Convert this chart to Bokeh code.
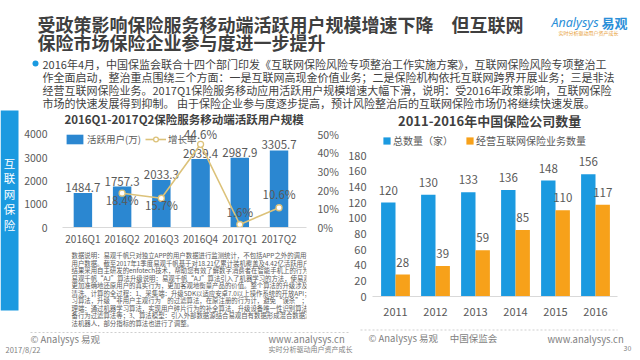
from bokeh.plotting import figure
from bokeh.models import (Range1d, LinearAxis, FixedTicker, PrintfTickFormatter,
                          Legend, LegendItem, ColumnDataSource)
from bokeh.layouts import column, row
from bokeh.transform import dodge
from bokeh.embed import file_html
from bokeh.resources import INLINE
from bokeh.core.properties import value

FONT = "Noto Sans CJK SC"
GRAY = "#595959"
DARK = "#3f3f3f"

# ---------------- data ----------------
title_lines = ["受政策影响保险服务移动端活跃用户规模增速下降　但互联网",
               "保险市场保险企业参与度进一步提升"]
bullet_lines = [
    "2016年4月，中国保监会联合十四个部门印发《互联网保险风险专项整治工作实施方案》，互联网保险风险专项整治工",
    "作全面启动，整治重点围绕三个方面：一是互联网高现金价值业务；二是保险机构依托互联网跨界开展业务；三是非法",
    "经营互联网保险业务。2017Q1保险服务移动应用活跃用户规模增速大幅下滑，说明：受2016年政策影响，互联网保险",
    "市场的快速发展得到抑制。 由于保险企业参与度逐步提高，预计风险整治后的互联网保险市场仍将继续快速发展。",
]
note_lines = [
    "数据说明：易观千帆只对独立APP的用户数据进行监测统计，不包括APP之外的调用等行为产生的",
    "用户数据。截至2017年1季度易观千帆基于对18.21亿累计装机覆盖及4.42亿活跃用户的行为监测",
    "结果采用自主研发的enfotech技术，帮助您有效了解数字消费者在智能手机上的行为轨迹。",
    "易观千帆“AJ”算法升级说明：易观千帆“AJ”算法引入了机器学习的方法，使易观千帆的数据",
    "更加准确地还原用户的真实行为，更加客观地衡量产品的价值。整个算法的升级涉及到数据采集、",
    "清洗、计算的全过程：1、采集端：升级SDK以适应安卓7.0以上操作系统的开放API；通过机器学",
    "习算法，升级“非用户主观行为”的过滤算法，在原注册的行为计，避免“误杀”；2、数据处",
    "理端：通过机器学习算法，实现用户碎片行为的补全算法，升级设备唯一性识别算法，增加异常设",
    "备行为过滤算法等；3、算法模型：引入外部数据源结合易观自有数据形成混合数据源，训练AI算",
    "法机器人，部分指标的算法也进行了调整。",
]
sidebar_text = "互联网保险"

left_title = "2016Q1-2017Q2保险服务移动端活跃用户规模"
quarters = ["2016Q1", "2016Q2", "2016Q3", "2016Q4", "2017Q1", "2017Q2"]
active_users = [1484.7, 1757.3, 2033.3, 2939.4, 2987.9, 3305.7]
growth_quarters = ["2016Q2", "2016Q3", "2016Q4", "2017Q1", "2017Q2"]
growth_rate = [18.4, 15.7, 44.6, 1.6, 10.6]
users_ticks = [0, 1000, 2000, 3000, 4000]
pct_ticks = [0, 10, 20, 30, 40, 50]

right_title = "2011-2016年中国保险公司数量"
years = ["2011", "2012", "2013", "2014", "2015", "2016"]
total_companies = [120, 130, 133, 136, 148, 156]
internet_companies = [28, 39, 59, 85, 110, 117]
count_ticks = [0, 20, 40, 60, 80, 100, 120, 140, 160, 180]

# label offsets (screen px, + is down) for the growth-rate labels
pct_label_dy = [7, 7, -10, -13, -14]


def canvas(ox, oy, w, h):
    p = figure(width=w, height=h, x_range=Range1d(ox, ox + w), y_range=Range1d(oy + h, oy),
               min_border=0, toolbar_location=None, output_backend="svg", title=None,
               x_axis_type=None, y_axis_type=None)
    p.grid.visible = False
    p.outline_line_color = None
    p.background_fill_color = "white"
    p.border_fill_color = "white"
    return p


def txt(p, x, y, t, size, color=DARK, style="normal", align="left", baseline="middle", font=FONT):
    p.text(x=x if isinstance(x, list) else [x], y=y if isinstance(y, list) else [y],
           text=t if isinstance(t, list) else [t],
           text_font=value(font), text_font_size=size, text_font_style=style,
           text_color=color, text_align=align, text_baseline=baseline)


def style_axis(ax, size, standoff, line_color=None):
    ax.axis_line_color = line_color
    ax.major_tick_line_color = None
    ax.minor_tick_line_color = None
    ax.major_tick_out = 0
    ax.major_tick_in = 0
    ax.major_label_text_font = FONT
    ax.major_label_text_font_size = size
    ax.major_label_text_color = GRAY
    ax.major_label_standoff = standoff


# ---------------- header ----------------
hdr = canvas(0, 0, 640, 110)
txt(hdr, [37, 37], [23, 41.5], title_lines, "18px", DARK, "bold")
txt(hdr, 551, 22, "Analysys", "12.5px", "#2b8fd8", "italic", font="Noto Sans")
txt(hdr, 601, 22, "易观", "13px", "#2b8fd8", "bold")
txt(hdr, 558, 32, "实时分析驱动用户资产成长", "5px", "#e8a13a")
hdr.scatter(x=[35], y=[63], marker="circle", size=6, fill_color="#1b9ae0", line_color=None)
txt(hdr, [42] * 4, [63, 76, 89, 102], bullet_lines, "11px", DARK)

# ---------------- sidebar ----------------
sb = canvas(0, 110, 20, 217)
sb.quad(left=[0], right=[18], top=[108], bottom=[310], fill_color="#1b9ae0", line_color=None)
txt(sb, [9] * len(sidebar_text), [162 + 15.5 * i for i in range(len(sidebar_text))],
    list(sidebar_text), "11.5px", "white", align="center")

# ---------------- left chart ----------------
lt = canvas(20, 110, 325, 16)
txt(lt, 182, 118.5, left_title, "11.5px", DARK, "bold", align="center")

pL = figure(width=325, height=122, x_range=Range1d(-0.52, 5.7), y_range=Range1d(0, 4333.3),
            min_border_left=42, min_border_right=39, min_border_top=0, min_border_bottom=18,
            x_axis_type=None, y_axis_type=None, toolbar_location=None,
            output_backend="svg", title=None)
pL.extra_y_ranges = {"pct": Range1d(0, 54.167)}
pL.grid.visible = False
pL.outline_line_color = None

ax_l = LinearAxis(ticker=FixedTicker(ticks=users_ticks))
style_axis(ax_l, "10.5px", 15)
pL.add_layout(ax_l, "left")
ax_r = LinearAxis(y_range_name="pct", ticker=FixedTicker(ticks=pct_ticks),
                  formatter=PrintfTickFormatter(format="%d%%"))
style_axis(ax_r, "10.5px", 11)
pL.add_layout(ax_r, "right")
ax_b = LinearAxis(ticker=FixedTicker(ticks=list(range(len(quarters)))),
                  major_label_overrides={i: q for i, q in enumerate(quarters)})
style_axis(ax_b, "10px", 3, "#d9d9d9")
pL.add_layout(ax_b, "below")

src_u = ColumnDataSource(dict(x=list(range(len(quarters))), top=active_users,
                              lab=[f"{v:.1f}" for v in active_users]))
bars_u = pL.vbar(x="x", top="top", width=0.47, source=src_u,
                 fill_color="#2b87d1", line_color=None)
pL.text(x="x", y="top", text="lab", source=src_u, text_font=value(FONT),
        text_font_size="11.5px", text_color=GRAY, text_align="center",
        text_baseline="bottom", y_offset=-1)

src_g = ColumnDataSource(dict(x=[quarters.index(q) for q in growth_quarters], y=growth_rate,
                              lab=[f"{v}%" for v in growth_rate], dy=pct_label_dy))
ln = pL.line(x="x", y="y", source=src_g, y_range_name="pct", line_color="#dcc27a", line_width=1.6)
pts = pL.scatter(x="x", y="y", source=src_g, y_range_name="pct", marker="circle", size=6,
                 fill_color="white", line_color="#dcc27a", line_width=1.3)
pL.text(x="x", y="y", text="lab", source=src_g, y_range_name="pct", y_offset="dy",
        text_font=value(FONT), text_font_size="11.5px", text_color=GRAY,
        text_align="center", text_baseline="middle")

legL = Legend(items=[LegendItem(label="活跃用户(万)", renderers=[bars_u]),
                     LegendItem(label="增长率", renderers=[ln, pts])],
              location=(2, 81), orientation="horizontal", glyph_width=21, glyph_height=12,
              label_height=12, label_standoff=2, spacing=4, padding=0, margin=0,
              border_line_color=None, background_fill_alpha=0,
              label_text_font=FONT, label_text_font_size="9.5px", label_text_color=GRAY)
pL.add_layout(legL)

ln_fig = canvas(20, 248, 325, 79)
txt(ln_fig, [32] * len(note_lines), [255 + 7.5 * i for i in range(len(note_lines))],
    note_lines, "6.4px", GRAY)

# ---------------- right chart ----------------
rt = canvas(345, 110, 295, 23)
txt(rt, 486, 120, right_title, "13px", DARK, "bold", align="center")

pR = figure(width=295, height=194, x_range=Range1d(-0.575, 5.55), y_range=Range1d(0, 208.1),
            min_border_left=27, min_border_right=23, min_border_top=0, min_border_bottom=31,
            x_axis_type=None, y_axis_type=None, toolbar_location=None,
            output_backend="svg", title=None)
pR.grid.visible = False
pR.outline_line_color = None
ay = LinearAxis(ticker=FixedTicker(ticks=count_ticks))
style_axis(ay, "11px", 6)
pR.add_layout(ay, "left")
ax = LinearAxis(ticker=FixedTicker(ticks=list(range(len(years)))),
                major_label_overrides={i: y for i, y in enumerate(years)})
style_axis(ax, "11px", 11, "#d9d9d9")
pR.add_layout(ax, "below")

src_c = ColumnDataSource(dict(x=list(range(len(years))), tot=total_companies,
                              net=internet_companies,
                              tl=[str(v) for v in total_companies],
                              nl=[str(v) for v in internet_companies]))
b1 = pR.vbar(x=dodge("x", -0.18, range=pR.x_range), top="tot", width=0.36, source=src_c,
             fill_color="#1b9ae0", line_color=None)
b2 = pR.vbar(x=dodge("x", 0.18, range=pR.x_range), top="net", width=0.36, source=src_c,
             fill_color="#f7a11a", line_color=None)
for col, lab, dx in (("tot", "tl", -0.18), ("net", "nl", 0.18)):
    pR.text(x=dodge("x", dx, range=pR.x_range), y=col, text=lab, source=src_c,
            text_font=value(FONT), text_font_size="11.5px", text_color=GRAY,
            text_align="center", text_baseline="bottom", y_offset=-8)

legR = Legend(items=[LegendItem(label="总数量（家）", renderers=[b1]),
                     LegendItem(label="经营互联网保险业务数量", renderers=[b2])],
              location=(10, 148), orientation="horizontal", glyph_width=9, glyph_height=9,
              label_height=12, label_standoff=2, spacing=12, padding=0, margin=0,
              border_line_color=None, background_fill_alpha=0,
              label_text_font=FONT, label_text_font_size="10px", label_text_color=GRAY)
pR.add_layout(legR)

# ---------------- footer ----------------
ft = canvas(0, 327, 640, 33)
ft.line(x=[30, 350], y=[332, 332], line_color="#cfcfcf", line_dash="2 2", line_width=1)
ft.line(x=[360, 617], y=[329.5, 329.5], line_color="#cfcfcf", line_dash="2 2", line_width=1)
txt(ft, 30, 338, "© Analysys 易观", "9.5px", "#7f7f7f")
txt(ft, 268, 338, "www.analysys.cn", "9.5px", "#7f7f7f")
txt(ft, 5, 349, "2017/8/22", "7.5px", "#7f7f7f")
txt(ft, 268, 348.5, "实时分析驱动用户资产成长", "7px", "#7f7f7f")
txt(ft, 368, 337, "© Analysys 易观　 中国保监会", "9.5px", "#7f7f7f")
txt(ft, 547, 338, "www.analysys.cn", "9.5px", "#7f7f7f")
txt(ft, 623, 347, "30", "7px", "#7f7f7f")

layout = column(hdr,
                row(sb, column(lt, pL, ln_fig), column(rt, pR)),
                ft)

open("out.html", "w").write(file_html(layout, INLINE))
